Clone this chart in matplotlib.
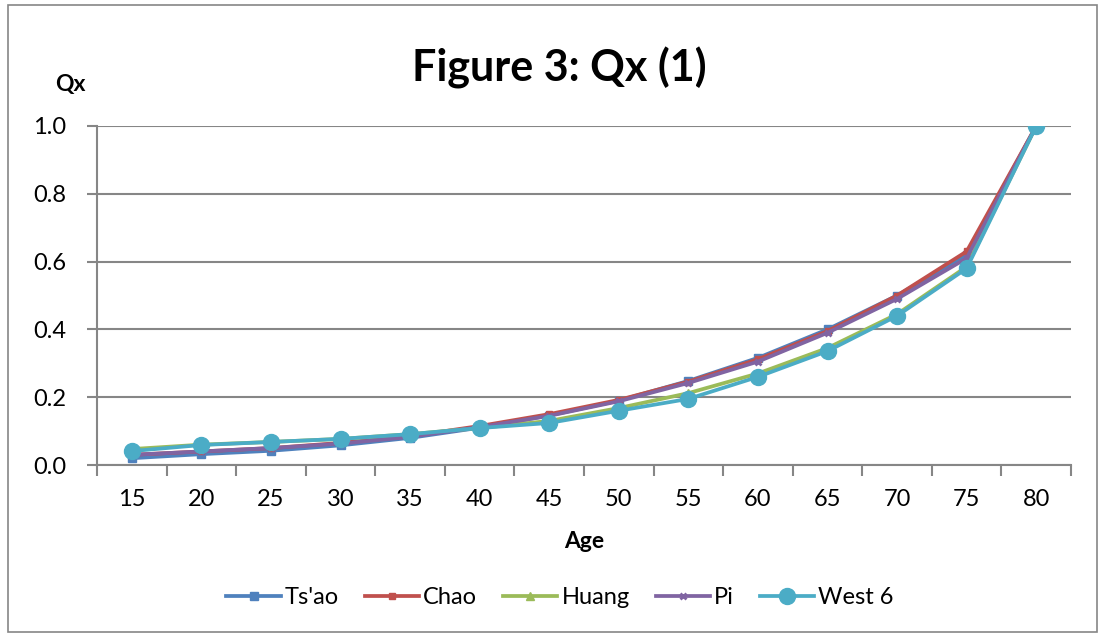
import matplotlib
matplotlib.use("Agg")
import matplotlib.pyplot as plt
from matplotlib.patches import Rectangle

ages = ["15", "20", "25", "30", "35", "40", "45", "50", "55", "60", "65", "70", "75", "80"]
tsao = [0.020, 0.032, 0.042, 0.058, 0.080, 0.110, 0.146, 0.190, 0.248, 0.316, 0.400, 0.500, 0.620, 1.0]
chao = [0.030, 0.040, 0.050, 0.065, 0.085, 0.115, 0.150, 0.192, 0.246, 0.312, 0.395, 0.500, 0.630, 1.0]
huang = [0.047, 0.060, 0.068, 0.077, 0.091, 0.109, 0.130, 0.168, 0.212, 0.270, 0.345, 0.445, 0.585, 1.0]
pi = [0.030, 0.040, 0.050, 0.063, 0.083, 0.112, 0.145, 0.188, 0.242, 0.305, 0.390, 0.490, 0.610, 1.0]
west6 = [0.041, 0.059, 0.068, 0.077, 0.091, 0.109, 0.124, 0.160, 0.195, 0.260, 0.336, 0.440, 0.580, 1.0]

series = [
    ("Ts'ao", tsao, "#4F81BD", "s", 6),
    ("Chao", chao, "#C0504D", "s", 4),
    ("Huang", huang, "#9BBB59", "^", 6),
    ("Pi", pi, "#8064A2", "x", 5),
    ("West 6", west6, "#4BACC6", "o", 11.5),
]

plt.rcParams['font.family'] = ['Lato', 'DejaVu Sans']

fig = plt.figure(figsize=(10.99, 6.33), dpi=100)
ax = fig.add_axes([97/1099, 1 - 465/633, (1071-97)/1099, (465-126)/633])

x = list(range(len(ages)))
for name, vals, col, mk, ms in series:
    kw = dict(color=col, lw=2.7, marker=mk, markersize=ms, label=name,
              markerfacecolor=col, markeredgecolor=col)
    if mk == "x":
        kw["markeredgewidth"] = 2
    ax.plot(x, vals, **kw)

ax.set_xlim(-0.5, len(ages) - 0.5)
ax.set_ylim(0, 1.0)
ax.set_yticks([0.0, 0.2, 0.4, 0.6, 0.8, 1.0])
ax.set_yticklabels(["0.0", "0.2", "0.4", "0.6", "0.8", "1.0"])
ax.set_xticks(x)
ax.set_xticklabels(ages)
ax.set_xticks([i - 0.5 for i in range(len(ages) + 1)], minor=True)
ax.tick_params(axis='x', which='major', length=0, pad=17, labelsize=17)
ax.tick_params(axis='x', which='minor', length=8, width=1.5, color="#868686")
ax.tick_params(axis='y', which='major', length=7, width=1.5, color="#868686", labelsize=17, pad=15)
ax.grid(axis='y', color="#868686", lw=1.5)
ax.set_axisbelow(True)
for s in ["top", "right"]:
    ax.spines[s].set_visible(False)
for s in ["left", "bottom"]:
    ax.spines[s].set_color("#868686")
    ax.spines[s].set_linewidth(1.5)

fig.text(584/1099, 1 - 542/633, "Age", fontsize=16.5, fontweight='bold', ha='center', va='center')
fig.text(70/1099, 1 - 85/633, "Qx", fontsize=16.5, fontweight='bold', ha='center', va='center')
fig.text(559/1099, 1 - 68/633, "Figure 3: Qx (1)", fontsize=31, fontweight='bold', ha='center', va='center')

leg = fig.legend(loc='center', bbox_to_anchor=(560/1099, 1 - 598/633), ncol=5, frameon=False,
                 fontsize=17, handlelength=2.3, columnspacing=1.1, handletextpad=0.17)

fig.patches.append(Rectangle((8/1099, 1/633), 1089/1099, 627/633, transform=fig.transFigure,
                             fill=False, edgecolor="#868686", lw=1.2))

fig.savefig("out.png", dpi=100)
